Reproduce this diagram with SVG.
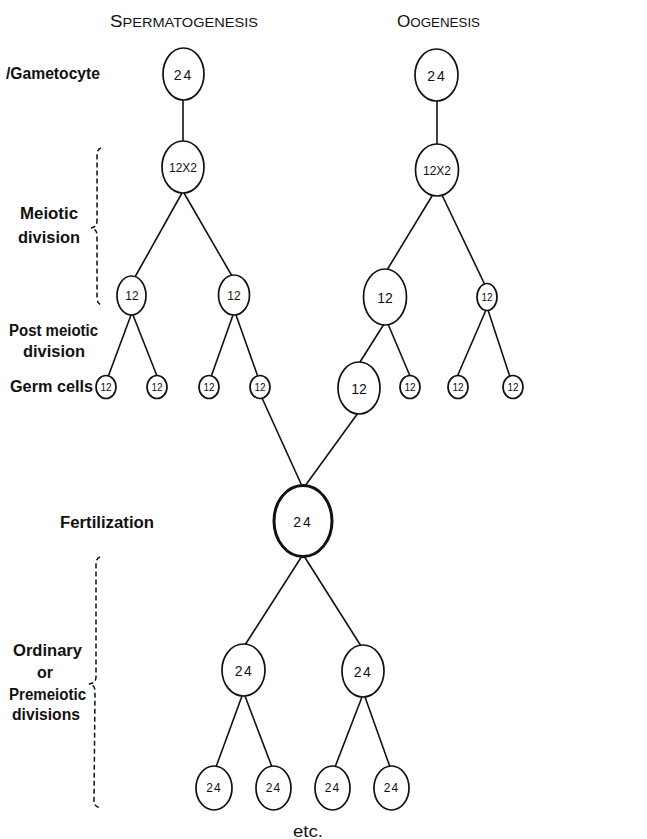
<svg xmlns="http://www.w3.org/2000/svg" width="647" height="839" viewBox="0 0 647 839">
<style>
.bg{fill:#fff}
.c{fill:#fff;stroke:#111;stroke-width:1.7}
.cb{fill:#fff;stroke:#111;stroke-width:3}
.ln{stroke:#111;stroke-width:1.6;fill:none}
.br{stroke:#111;stroke-width:1.5;fill:none;stroke-dasharray:5 3}
.lab{font-family:"Liberation Sans",Arial,sans-serif;font-size:16px;fill:#111;font-weight:bold}
.etc{font-family:"Liberation Sans",Arial,sans-serif;font-size:16px;fill:#111}
.hd{font-family:"Liberation Sans",Arial,sans-serif;fill:#111}
.n{font-family:"Liberation Sans",Arial,sans-serif;fill:#111;text-anchor:middle;dominant-baseline:central}
.nl{font-size:14px}
.nm{font-size:12px}
.ns{font-size:10px}
</style>
<rect class="bg" width="647" height="839"/>
<g id="headings">
<text class="hd" x="110" y="27" textLength="148" lengthAdjust="spacingAndGlyphs"><tspan font-size="16">S</tspan><tspan font-size="12.5">PERMATOGENESIS</tspan></text>
<text class="hd" x="397" y="27" textLength="83" lengthAdjust="spacingAndGlyphs"><tspan font-size="16">O</tspan><tspan font-size="12.5">OGENESIS</tspan></text>
</g>
<g id="labels">
<text class="lab" x="6" y="79" textLength="94" lengthAdjust="spacingAndGlyphs">/Gametocyte</text>
<text class="lab" x="20" y="219" textLength="58" lengthAdjust="spacingAndGlyphs">Meiotic</text>
<text class="lab" x="18" y="243" textLength="62" lengthAdjust="spacingAndGlyphs">division</text>
<text class="lab" x="9" y="336" textLength="89" lengthAdjust="spacingAndGlyphs">Post meiotic</text>
<text class="lab" x="23" y="357" textLength="62" lengthAdjust="spacingAndGlyphs">division</text>
<text class="lab" x="10" y="392" textLength="83" lengthAdjust="spacingAndGlyphs">Germ cells</text>
<text class="lab" x="60" y="528" textLength="94" lengthAdjust="spacingAndGlyphs">Fertilization</text>
<text class="lab" x="13" y="656" textLength="69" lengthAdjust="spacingAndGlyphs">Ordinary</text>
<text class="lab" x="37" y="678" textLength="16" lengthAdjust="spacingAndGlyphs">or</text>
<text class="lab" x="9" y="700" textLength="77" lengthAdjust="spacingAndGlyphs">Premeiotic</text>
<text class="lab" x="12" y="720" textLength="68" lengthAdjust="spacingAndGlyphs">divisions</text>
<text class="etc" x="293" y="837" textLength="30" lengthAdjust="spacingAndGlyphs">etc.</text>
</g>
<g id="brackets">
<path class="br" d="M101,148 Q97,149 97,156 L97,221 Q97,227 91,228 Q97,229 97,235 L97,298 Q97,304 102,305"/>
<path class="br" d="M100,557 Q96,558 96,565 L96,677 Q96,683 89,684 Q95,685 95,691 L94,801 Q94,807 101,808"/>
</g>
<g id="connectors">
<line class="ln" x1="183" y1="100" x2="183" y2="141"/>
<line class="ln" x1="437" y1="101" x2="437" y2="144"/>
<line class="ln" x1="182" y1="193" x2="135" y2="277"/>
<line class="ln" x1="184" y1="193" x2="232" y2="276"/>
<line class="ln" x1="432" y1="196" x2="387" y2="270"/>
<line class="ln" x1="442" y1="195" x2="485" y2="285"/>
<line class="ln" x1="131" y1="315" x2="108" y2="377"/>
<line class="ln" x1="133" y1="315" x2="157" y2="376"/>
<line class="ln" x1="233" y1="315" x2="211" y2="377"/>
<line class="ln" x1="236" y1="315" x2="258" y2="377"/>
<line class="ln" x1="384" y1="324" x2="360" y2="362"/>
<line class="ln" x1="388" y1="324" x2="410" y2="376"/>
<line class="ln" x1="486" y1="310" x2="457" y2="377"/>
<line class="ln" x1="488" y1="310" x2="510" y2="377"/>
<line class="ln" x1="262" y1="398" x2="302" y2="486"/>
<line class="ln" x1="358" y1="413" x2="305" y2="486"/>
<line class="ln" x1="302" y1="556" x2="245" y2="645"/>
<line class="ln" x1="304" y1="556" x2="361" y2="646"/>
<line class="ln" x1="242" y1="696" x2="216" y2="767"/>
<line class="ln" x1="245" y1="696" x2="272" y2="767"/>
<line class="ln" x1="362" y1="697" x2="335" y2="767"/>
<line class="ln" x1="365" y1="697" x2="390" y2="767"/>
</g>
<g id="sp-gametocyte"><ellipse class="c" cx="183.5" cy="74" rx="20.5" ry="26"/><text class="n nl" x="183.5" y="75" letter-spacing="2">24</text></g>
<g id="oo-gametocyte"><ellipse class="c" cx="436.5" cy="75" rx="21.5" ry="26"/><text class="n nl" x="437" y="76" letter-spacing="2">24</text></g>
<g id="sp-meiotic"><ellipse class="c" cx="183" cy="167" rx="21" ry="26"/><text class="n nm" x="183" y="168">12X2</text></g>
<g id="oo-meiotic"><ellipse class="c" cx="437" cy="170" rx="21.5" ry="26"/><text class="n nm" x="437" y="171">12X2</text></g>
<g id="sp-12a"><ellipse class="c" cx="131.5" cy="295.5" rx="14.5" ry="19.5"/><text class="n nm" x="132" y="296">12</text></g>
<g id="sp-12b"><ellipse class="c" cx="234" cy="295" rx="15.5" ry="20"/><text class="n nm" x="234" y="296">12</text></g>
<g id="oo-12a"><ellipse class="c" cx="385" cy="297" rx="21.5" ry="28"/><text class="n nl" x="385" y="298">12</text></g>
<g id="oo-12b"><ellipse class="c" cx="487" cy="297" rx="10" ry="13.5"/><text class="n ns" x="487" y="297">12</text></g>
<g id="germ1"><ellipse class="c" cx="106" cy="387" rx="10" ry="11.5"/><text class="n ns" x="106" y="387">12</text></g>
<g id="germ2"><ellipse class="c" cx="157" cy="387" rx="10" ry="11.5"/><text class="n ns" x="157" y="387">12</text></g>
<g id="germ3"><ellipse class="c" cx="209" cy="387" rx="10" ry="11.5"/><text class="n ns" x="209" y="387">12</text></g>
<g id="germ4"><ellipse class="c" cx="260" cy="387" rx="10" ry="11.5"/><text class="n ns" x="260" y="387">12</text></g>
<g id="egg"><ellipse class="c" cx="359" cy="388" rx="21" ry="26"/><text class="n nl" x="359" y="389">12</text></g>
<g id="germ5"><ellipse class="c" cx="410" cy="387" rx="10" ry="11.5"/><text class="n ns" x="410" y="387">12</text></g>
<g id="germ6"><ellipse class="c" cx="458" cy="387" rx="10" ry="11.5"/><text class="n ns" x="458" y="387">12</text></g>
<g id="germ7"><ellipse class="c" cx="513" cy="387" rx="10" ry="11.5"/><text class="n ns" x="513" y="387">12</text></g>
<g id="zygote"><ellipse class="cb" cx="303" cy="521" rx="29" ry="35.5"/><text class="n nl" x="303" y="522" letter-spacing="2">24</text></g>
<g id="div-24a"><ellipse class="c" cx="243.5" cy="670" rx="21.5" ry="26"/><text class="n nl" x="244" y="671" letter-spacing="1.5">24</text></g>
<g id="div-24b"><ellipse class="c" cx="363" cy="671" rx="21" ry="26"/><text class="n nl" x="363" y="672" letter-spacing="1.5">24</text></g>
<g id="div-24c"><ellipse class="c" cx="214" cy="788" rx="18" ry="22"/><text class="n nm" x="214" y="788" letter-spacing="1">24</text></g>
<g id="div-24d"><ellipse class="c" cx="273.5" cy="788" rx="17.5" ry="22"/><text class="n nm" x="273.5" y="788" letter-spacing="1">24</text></g>
<g id="div-24e"><ellipse class="c" cx="332.5" cy="788" rx="17.5" ry="22"/><text class="n nm" x="332.5" y="788" letter-spacing="1">24</text></g>
<g id="div-24f"><ellipse class="c" cx="391.5" cy="788" rx="17.5" ry="22"/><text class="n nm" x="391.5" y="788" letter-spacing="1">24</text></g>
</svg>
